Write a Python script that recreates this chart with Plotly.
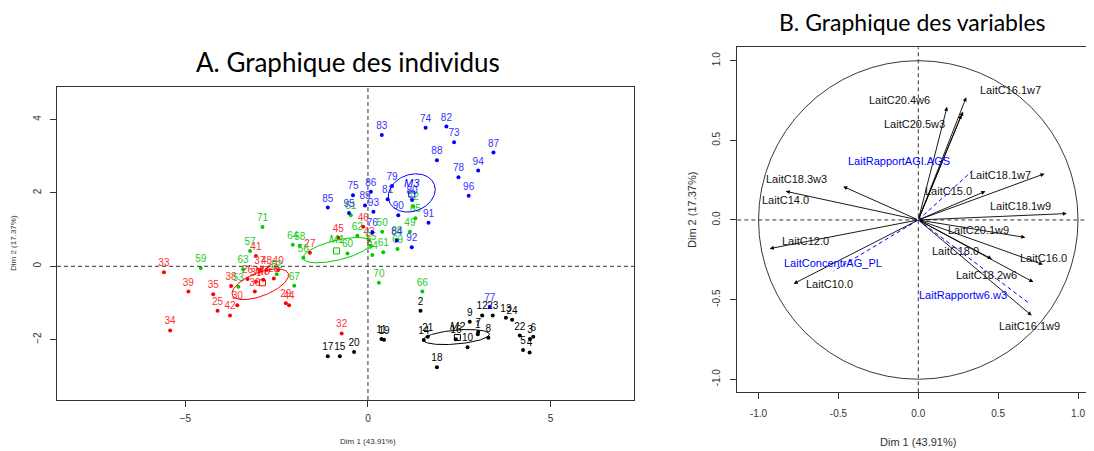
import numpy as np
import plotly.graph_objects as go

# ---------------- Individuals (Dim 1, Dim 2) ----------------
black_ids = [str(i) for i in range(1, 25)]
black_x = [3.01, 1.44, 4.44, 4.43, 4.25, 4.53, 3.02, 3.30, 2.79, 2.73, 0.37, 3.13,
           3.78, 1.53, -0.77, 2.41, -1.10, 1.89, 0.44, -0.38, 1.64, 4.16, 3.42, 3.95]
black_y = [-1.85, -1.21, -1.98, -2.35, -2.28, -1.92, -1.79, -1.95, -1.51, -2.21, -1.98, -1.34,
           -1.40, -2.01, -2.45, -1.99, -2.45, -2.75, -2.00, -2.34, -1.92, -1.89, -1.34, -1.46]

red_ids = [str(i) for i in range(25, 49)]
red_x = [-4.12, -3.30, -1.59, -2.58, -2.25, -3.58, -3.07, -0.72, -5.59, -5.42, -4.24, -3.10,
         -2.96, -3.75, -4.92, -2.46, -3.07, -3.78, 0.03, -2.16, -0.81, -0.13, -2.87, -2.78]
red_y = [-1.21, -0.35, 0.37, -0.33, -1.01, -1.06, -0.42, -1.83, -0.16, -1.75, -0.76, -0.69,
         -0.10, -0.54, -0.69, -0.10, 0.28, -1.34, 0.70, -1.06, 0.78, 1.08, -0.37, -0.10]

green_ids = [str(i) for i in range(49, 73)]
green_x = [1.15, 0.39, -0.47, -2.50, -3.55, 0.12, 0.08, -1.77, -3.23, -1.87, -4.58, -0.56,
           0.42, -0.29, -3.42, -2.06, 1.30, 1.49, -2.02, 0.79, 0.81, 0.30, -2.89, 1.24]
green_y = [0.94, 0.94, 1.39, -0.22, -0.56, 0.31, 0.55, 0.23, 0.42, 0.56, -0.05, 0.35,
           0.38, 0.83, -0.08, 0.59, 1.31, -0.69, -0.53, 0.72, 0.47, -0.45, 1.07, 1.63]

blue_ids = [str(i) for i in range(73, 97)]
blue_x = [2.36, 1.58, -0.41, 0.12, 3.34, 2.48, 0.66, 1.21, 0.54, 2.15, 0.38, 0.79,
          -1.10, 0.08, 3.44, 1.89, -0.08, 0.83, 1.66, 1.20, 0.15, 3.02, -0.52, 2.76]
blue_y = [3.38, 3.78, 1.94, 0.93, -1.10, 2.43, 2.19, 1.81, 1.83, 3.81, 3.58, 0.70,
          1.60, 2.03, 3.10, 2.89, 1.66, 1.39, 1.19, 0.52, 1.49, 2.61, 1.45, 1.92]

# group centres and confidence ellipses
centre_names = ["M2", "M0", "M1", "M3"]
centre_x = [2.45, -2.89, -0.86, 1.20]
centre_y = [-1.94, -0.45, 0.42, 1.97]
ell_cx = [2.42, -2.95, -0.84, 1.20]
ell_cy = [-1.93, -0.49, 0.44, 2.00]
ell_a = [0.91, 0.82, 0.96, 0.66]
ell_b = [0.19, 0.32, 0.27, 0.50]
ell_angle = [5, 21, 13.5, 20]

# ---------------- Variables (correlation circle) ----------------
var_names = ["LaitC16.1w7", "LaitC20.4w6", "LaitC20.5w3", "LaitC22.5w3", "LaitC18.1w7",
             "LaitC15.0", "LaitC18.3w3", "LaitC14.0", "LaitC18.1w9", "LaitC20.1w9",
             "LaitC12.0", "LaitC16.0", "LaitC18.0", "LaitC18.2w6", "LaitC10.0", "LaitC16.1w9"]
var_x = [0.30, 0.18, 0.28, 0.27, 0.79, 0.42, -0.47, -0.83, 0.93, 0.67,
         -0.93, 0.78, 0.46, 0.72, -0.78, 0.71]
var_y = [0.77, 0.71, 0.68, 0.66, 0.29, 0.18, 0.21, 0.18, 0.04, -0.11,
         -0.18, -0.28, -0.245, -0.39, -0.40, -0.60]
var_lab_x = [0.575, -0.115, -0.021, None, 0.512, 0.188, -0.761, -0.834, 0.641, 0.376,
             -0.709, 0.783, 0.230, 0.428, -0.557, 0.699]
var_lab_y = [0.816, 0.755, 0.603, None, 0.282, 0.184, 0.257, 0.126, 0.090, -0.063,
             -0.134, -0.239, -0.197, -0.345, -0.402, -0.664]

sup_names = ["LaitRapportAGI.AGS", "LaitConcentrAG_PL", "LaitRapportw6.w3"]
sup_x = [0.34, -0.53, 0.69]
sup_y = [0.31, -0.32, -0.52]
sup_lab_x = [-0.121, -0.536, 0.282]
sup_lab_y = [0.372, -0.268, -0.469]

FONT = "Liberation Sans, Arial, sans-serif"

fig = go.Figure()

groups = [
    (black_ids, black_x, black_y, "#000000", "#000000"),
    (red_ids, red_x, red_y, "#FF0000", "#FF3030"),
    (green_ids, green_x, green_y, "#00CD00", "#22CC22"),
    (blue_ids, blue_x, blue_y, "#0000FF", "#3333FF"),
]
for ids, gx, gy, col, tcol in groups:
    fig.add_trace(go.Scatter(
        x=gx, y=gy, text=ids, mode="markers+text", textposition="top center",
        marker=dict(color=col, size=4), textfont=dict(color=tcol, size=10, family=FONT),
        xaxis="x", yaxis="y", showlegend=False, cliponaxis=False))

ell_cols = ["#000000", "#FF0000", "#00CD00", "#0000FF"]
t = np.linspace(0, 2 * np.pi, 200)
for i in range(4):
    th = np.deg2rad(ell_angle[i])
    ex = ell_cx[i] + ell_a[i] * np.cos(t) * np.cos(th) - ell_b[i] * np.sin(t) * np.sin(th)
    ey = ell_cy[i] + ell_a[i] * np.cos(t) * np.sin(th) + ell_b[i] * np.sin(t) * np.cos(th)
    fig.add_trace(go.Scatter(x=ex, y=ey, mode="lines", line=dict(color=ell_cols[i], width=1),
                             xaxis="x", yaxis="y", showlegend=False, hoverinfo="skip"))
    fig.add_trace(go.Scatter(
        x=[centre_x[i]], y=[centre_y[i]], text=["<i>" + centre_names[i] + "</i>"],
        mode="markers+text", textposition="top center",
        marker=dict(symbol="square-open", color=ell_cols[i], size=6, line=dict(width=1)),
        textfont=dict(color=ell_cols[i], size=11, family=FONT),
        xaxis="x", yaxis="y", showlegend=False))

# supplementary variables (dashed blue)
for i in range(len(sup_names)):
    fig.add_trace(go.Scatter(x=[0, sup_x[i]], y=[0, sup_y[i]], mode="lines",
                             line=dict(color="#0000FF", width=1, dash="4px,3px"),
                             xaxis="x2", yaxis="y2", showlegend=False, hoverinfo="skip"))

annotations = []
for i in range(len(var_names)):
    annotations.append(dict(
        x=var_x[i], y=var_y[i], ax=0, ay=0, xref="x2", yref="y2", axref="x2", ayref="y2",
        showarrow=True, arrowhead=2, arrowsize=0.9, arrowwidth=0.9, arrowcolor="#000000", text=""))
    if var_lab_x[i] is not None:
        annotations.append(dict(x=var_lab_x[i], y=var_lab_y[i], xref="x2", yref="y2",
                                text=var_names[i], showarrow=False,
                                xanchor="center", yanchor="middle",
                                font=dict(size=11, color="#111111", family=FONT)))
for i in range(len(sup_names)):
    annotations.append(dict(x=sup_lab_x[i], y=sup_lab_y[i], xref="x2", yref="y2",
                            text=sup_names[i], showarrow=False,
                            xanchor="center", yanchor="middle",
                            font=dict(size=11, color="#0000FF", family=FONT)))

# titles & axis titles (page body has an 8px margin, accounted for in positions)
annotations += [
    dict(x=0.31308, y=0.87810, text="A. Graphique des individus",
         font=dict(size=26, family="Lato, sans-serif", color="#000")),
    dict(x=0.83333, y=0.96840, text="B. Graphique des variables",
         font=dict(size=23, family="Lato, sans-serif", color="#000")),
    dict(x=0.33149, y=0.02257, text="Dim 1 (43.91%)",
         font=dict(size=8, family=FONT, color="#333")),
    dict(x=0.005525, y=0.46953, text="Dim 2 (17.37%)", textangle=-90,
         font=dict(size=8, family=FONT, color="#333")),
    dict(x=0.83794, y=0.02099, text="Dim 1 (43.91%)",
         font=dict(size=11, family=FONT, color="#333")),
    dict(x=0.62983, y=0.54402, text="Dim 2 (17.37%)", textangle=-90,
         font=dict(size=11, family=FONT, color="#333")),
]
for a in annotations[-6:]:
    a.update(xref="paper", yref="paper", showarrow=False, xanchor="center", yanchor="middle")

dash_line = dict(color="#333", width=1, dash="4px,3px")
shapes = [
    dict(type="line", xref="x", yref="y domain", x0=0, x1=0, y0=0, y1=1, line=dash_line),
    dict(type="line", xref="x domain", yref="y", x0=0, x1=1, y0=0, y1=0, line=dash_line),
    dict(type="line", xref="x2", yref="y2 domain", x0=0, x1=0, y0=0, y1=1, line=dash_line),
    dict(type="line", xref="x2 domain", yref="y2", x0=0, x1=1, y0=0, y1=0, line=dash_line),
    dict(type="circle", xref="x2", yref="y2", x0=-1, y0=-1, x1=1, y1=1,
         line=dict(color="#222", width=0.9)),
]

axis_common = dict(showgrid=False, zeroline=False, showline=True, linecolor="#333", linewidth=1,
                   ticks="outside", ticklen=6, tickcolor="#333",
                   tickfont=dict(size=10, family=FONT, color="#333"))

fig.update_layout(
    width=1086, height=443, margin=dict(l=0, r=0, t=0, b=0),
    paper_bgcolor="white", plot_bgcolor="white", showlegend=False,
    xaxis=dict(domain=[0.04512, 0.57643], range=[-8.52, 7.29], tickvals=[-5, 0, 5],
               mirror=True, ticklabelstandoff=3, **axis_common),
    yaxis=dict(domain=[0.1151, 0.8210], range=[-3.646, 4.88], tickvals=[-2, 0, 2, 4],
               mirror=True, tickangle=-90, ticklabelstandoff=5, **axis_common),
    xaxis2=dict(domain=[0.67155, 1.0], range=[-1.133, 1.10], tickvals=[-1, -0.5, 0, 0.5, 1],
                ticktext=["-1.0", "-0.5", "0.0", "0.5", "1.0"], mirror=True,
                ticklabelstandoff=6, anchor="y2", **axis_common),
    yaxis2=dict(domain=[0.13251, 0.91129], range=[-1.082, 1.084], tickvals=[-1, -0.5, 0, 0.5, 1],
                ticktext=["-1.0", "-0.5", "0.0", "0.5", "1.0"], mirror=False, tickangle=-90,
                ticklabelstandoff=6, anchor="x2", **axis_common),
    annotations=annotations, shapes=shapes,
)

fig.write_html("out.html")
